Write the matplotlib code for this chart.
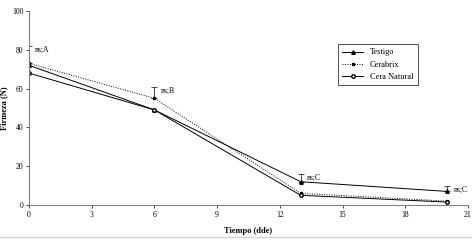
import numpy as np
import matplotlib.pyplot as plt

plt.rcParams['font.family'] = ['Liberation Serif', 'DejaVu Serif']

dias = [0, 6, 13, 20]
testigo = [72, 49, 12, 7]
cerabrix = [73, 55, 6, 2]
cera_natural = [68, 49, 5, 1.5]

# error bars (upper) and significance labels
err_x = [0, 6, 13, 20]
err_base = [73, 55, 12, 7]
err_up = [9, 6, 4, 3]
etiquetas = ["ns;A", "ns;B", "ns;C", "ns;C"]

fig = plt.figure(figsize=(4.72, 2.42), dpi=100)
ax = fig.add_axes([29/472, 37/242, 439/472, 194/242])

ax.plot(dias, testigo, color="black", lw=0.7, marker="^", ms=2.5, label="Testigo")
ax.plot(dias, cerabrix, color="black", lw=0.7, ls=(0, (1, 1.5)), marker="s", ms=2, label="Cerabrix")
ax.plot(dias, cera_natural, color="black", lw=0.7, marker="o", ms=2.5, mfc="white", label="Cera Natural")

ax.errorbar(err_x, err_base, yerr=[np.zeros(4), err_up], fmt="none", ecolor="black", elinewidth=0.5, capsize=2, capthick=0.5)
for x, b, u, t in zip(err_x, err_base, err_up, etiquetas):
    ax.text(x + 0.3, b + u - 4, t, fontsize=5.5, va="bottom")

ax.set_xlim(0, 21)
ax.set_ylim(0, 100)
ax.set_xticks(range(0, 22, 3))
ax.set_yticks(range(0, 101, 20))
ax.tick_params(labelsize=5.5, length=2, width=0.5, pad=2)
ax.spines["top"].set_visible(False)
ax.spines["right"].set_visible(False)
ax.spines["left"].set_color("gray")
ax.spines["bottom"].set_color("gray")
ax.set_xlabel("Tiempo (dde)", fontsize=6, fontweight="bold", labelpad=6)
ax.set_ylabel("Firmeza (N)", fontsize=6, fontweight="bold", labelpad=3)

leg = ax.legend(loc="upper left", bbox_to_anchor=(0.695, 0.85), fontsize=6, frameon=True, fancybox=False, edgecolor="black", handlelength=2.5, borderpad=0.5)
leg.get_frame().set_linewidth(0.6)

fig.add_artist(plt.Line2D([0, 1], [5/242, 5/242], color="lightgray", lw=1, transform=fig.transFigure))

fig.savefig("out.png", dpi=100)
